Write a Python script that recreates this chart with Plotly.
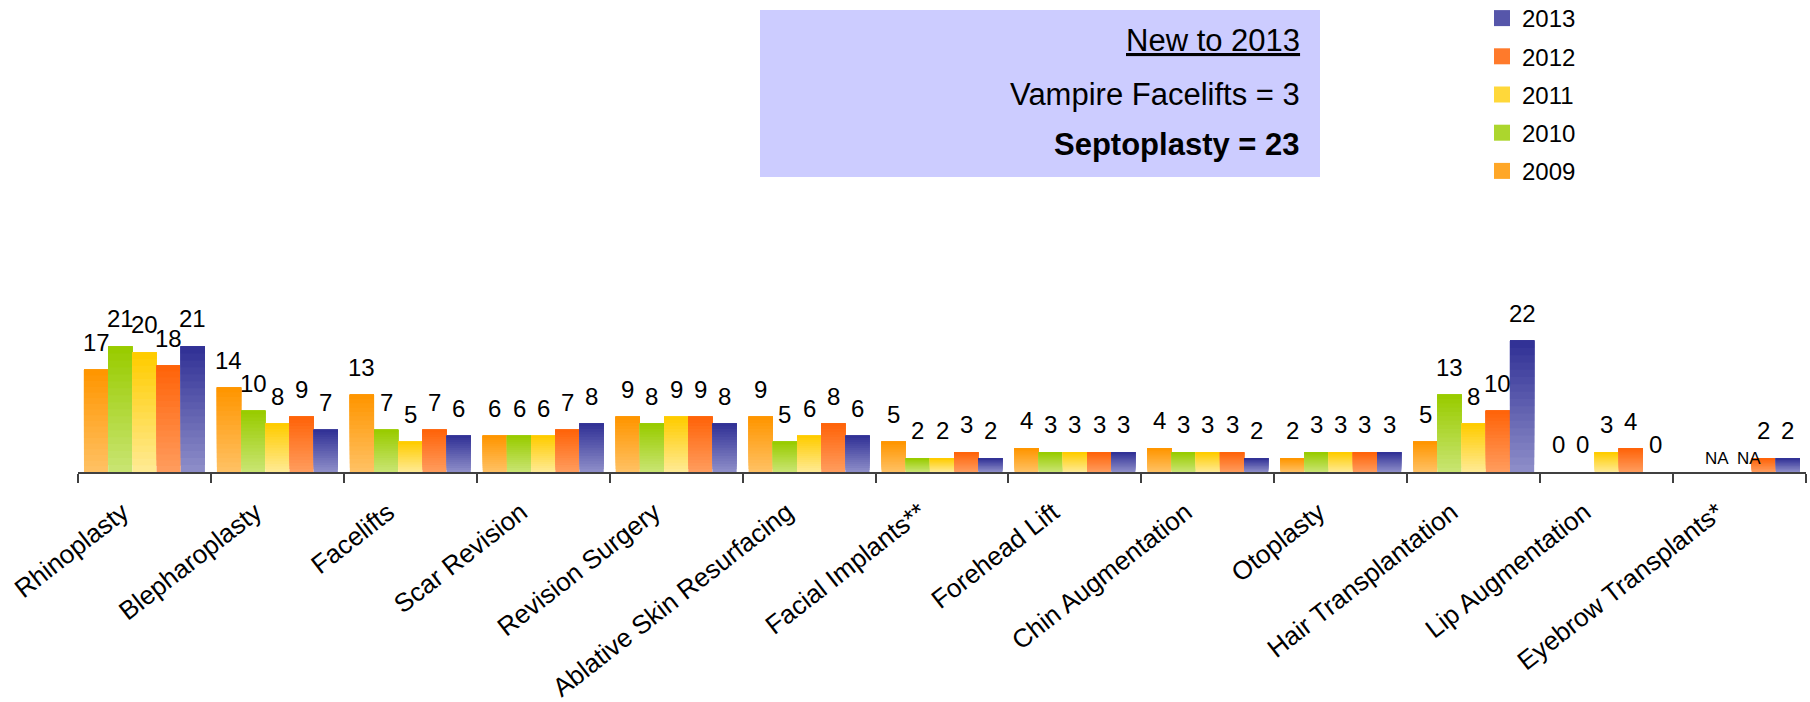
import plotly.graph_objects as go

# ---------------- data ----------------
categories = ["Rhinoplasty", "Blepharoplasty", "Facelifts", "Scar Revision",
              "Revision Surgery", "Ablative Skin Resurfacing", "Facial Implants**",
              "Forehead Lift", "Chin Augmentation", "Otoplasty",
              "Hair Transplantation", "Lip Augmentation", "Eyebrow Transplants*"]
years = ["2009", "2010", "2011", "2012", "2013"]
v2009 = [17.2, 14.2, 13.0, 6.1, 9.3, 9.3, 5.1, 4.0, 4.0, 2.3, 5.1, 0, None]
v2010 = [21.1, 10.3, 7.1, 6.1, 8.15, 5.1, 2.3, 3.3, 3.3, 3.3, 13.0, 0, None]
v2011 = [20.1, 8.15, 5.1, 6.1, 9.3, 6.1, 2.3, 3.3, 3.3, 3.3, 8.15, 3.3, None]
v2012 = [17.9, 9.3, 7.1, 7.1, 9.3, 8.15, 3.3, 3.3, 3.3, 3.3, 10.3, 3.95, 2.3]
v2013 = [21.1, 7.1, 6.1, 8.15, 8.15, 6.1, 2.3, 3.3, 2.3, 3.3, 22.1, 0, 2.3]
series = [v2009, v2010, v2011, v2012, v2013]
missing_label = {"2009": "", "2010": "NA", "2011": "NA", "2012": "NA", "2013": "NA"}
box_lines = ["New to 2013", "Vampire Facelifts = 3", "Septoplasty = 23"]

# ---------------- style ----------------
colors = {  # (top, bottom) of the vertical gradient
    "2009": ((255, 150, 0), (255, 192, 98)),
    "2010": ((153, 204, 0), (200, 228, 112)),
    "2011": ((255, 204, 0), (255, 234, 145)),
    "2012": ((255, 100, 10), (255, 155, 92)),
    "2013": ((50, 50, 150), (140, 140, 200)),
}
FONT = "Arial, Liberation Sans, sans-serif"
W, H = 1810, 702
ML, MR, MT, MB = 78, 4, 10, 230
PW, PH = W - ML - MR, H - MT - MB
PX_PER_UNIT = 5.95
BARGAP = 0.09
NSLICE = 18


def px2x(px):
    return (px - ML) / PW


def px2y(py):
    return 1 - (py - MT) / PH


def mix(c1, c2, t):
    return "rgb(%d,%d,%d)" % tuple(round(a + (b - a) * t) for a, b in zip(c1, c2))


fig = go.Figure()
for i, (yr, vals) in enumerate(zip(years, series)):
    top, bot = colors[yr]
    for k in range(NSLICE):
        f = k / NSLICE
        base = [None if v is None else v * f for v in vals]
        hgt = [None if v is None else v * (1 - f) for v in vals]
        fig.add_trace(go.Bar(
            x=categories, y=hgt, base=base, name=yr,
            offsetgroup=yr, legendgroup=yr, showlegend=False,
            marker=dict(color=mix(bot, top, k / (NSLICE - 1)), line=dict(width=0)),
            hoverinfo="skip",
        ))
    # legend swatch (square marker, larger than the default bar icon)
    fig.add_trace(go.Scatter(
        x=[None], y=[None], mode="markers", name=yr, legendgroup=yr,
        legendrank=len(years) - i, showlegend=True,
        marker=dict(symbol="square", size=16, color=mix(bot, top, 0.6)),
        hoverinfo="skip",
    ))

bar_px = PW / len(categories) * (1 - BARGAP) / len(years)
annotations = []
for i, (yr, vals) in enumerate(zip(years, series)):
    for cat, v in zip(categories, vals):
        if v is None:
            txt = missing_label[yr]
            if not txt:
                continue
            annotations.append(dict(x=cat, y=0, xref="x", yref="y", text=txt,
                                    showarrow=False, yanchor="bottom",
                                    xshift=(i - 2) * bar_px + (i - 1) * 7 + 2, yshift=2,
                                    font=dict(size=17, family=FONT, color="black")))
        else:
            annotations.append(dict(x=cat, y=v, xref="x", yref="y", text=str(round(v)),
                                    showarrow=False, yanchor="bottom",
                                    xshift=(i - 2) * bar_px, yshift=12,
                                    font=dict(size=24, family=FONT, color="black")))

# text box
box_y = [40, 95, 145]
for j, (line, yy) in enumerate(zip(box_lines, box_y)):
    fnt = dict(size=31, family=FONT, color="black")
    txt = line
    if j == 0:
        fnt["lineposition"] = "under"
    if j == 2:
        txt = "<b>%s</b>" % line
    annotations.append(dict(x=px2x(1302), y=px2y(yy), xref="paper", yref="paper",
                            text=txt, showarrow=False, xanchor="right", yanchor="middle",
                            font=fnt))

fig.update_layout(
    width=W, height=H, template="none",
    margin=dict(l=ML, r=MR, t=MT, b=MB, pad=0, autoexpand=False),
    paper_bgcolor="white", plot_bgcolor="white",
    barmode="group", bargap=BARGAP, bargroupgap=0,
    font=dict(family=FONT, size=24, color="black"),
    showlegend=True, hovermode=False,
    legend=dict(x=px2x(1482), y=px2y(-4), xanchor="left", yanchor="top",
                traceorder="grouped", tracegroupgap=4, itemsizing="trace",
                font=dict(size=24, family=FONT), bgcolor="rgba(0,0,0,0)"),
    xaxis=dict(type="category", showline=True, linecolor="#404040", linewidth=2,
               ticks="outside", tickson="boundaries", ticklen=9, tickwidth=2,
               tickcolor="#404040", tickangle=-38, showgrid=False, zeroline=False,
               automargin=False, ticklabelstandoff=13, ticklabelshift=-22,
               tickfont=dict(size=26, family=FONT, color="black")),
    yaxis=dict(range=[0, PH / PX_PER_UNIT], visible=False, showgrid=False, fixedrange=True),
    shapes=[dict(type="rect", xref="paper", yref="paper",
                 x0=px2x(760), x1=px2x(1320), y0=px2y(177), y1=px2y(10),
                 fillcolor="#CCCCFF", line=dict(width=0), layer="below")],
    annotations=annotations,
)

fig.write_html("out.html", config={"displayModeBar": False},
               post_script="document.body.style.margin='0';document.body.style.padding='0';")
